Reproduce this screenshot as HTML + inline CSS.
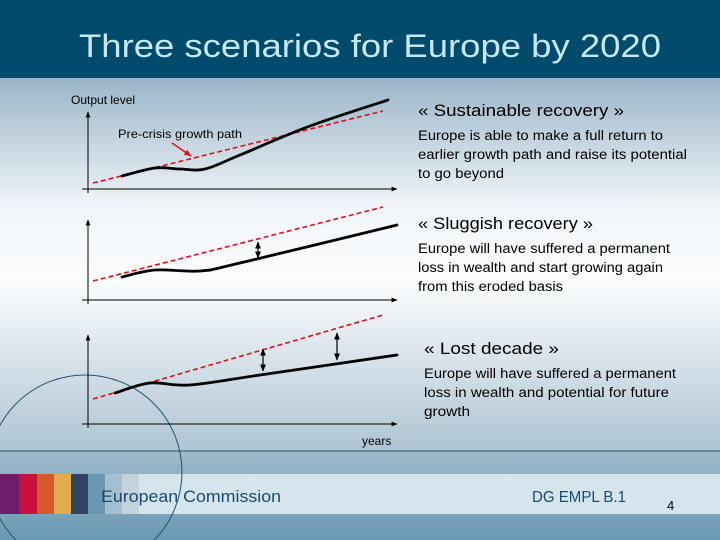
<!DOCTYPE html>
<html><head><meta charset="utf-8"><style>
html,body{margin:0;padding:0;width:720px;height:540px;overflow:hidden;font-family:"Liberation Sans",sans-serif}
svg{display:block}
</style></head><body>
<svg width="720" height="540" viewBox="0 0 720 540" xmlns="http://www.w3.org/2000/svg">
<defs>
<linearGradient id="bg" x1="0" y1="0" x2="0" y2="1">
<stop offset="0" stop-color="#9ab5c8"/><stop offset="0.35" stop-color="#f2f6f9"/><stop offset="0.55" stop-color="#fbfcfd"/><stop offset="1" stop-color="#aec4d3"/>
</linearGradient>
<linearGradient id="bot" x1="0" y1="0" x2="0" y2="1">
<stop offset="0" stop-color="#9fbacb"/><stop offset="1" stop-color="#6b98b3"/>
</linearGradient>
<clipPath id="clip"><rect x="0" y="0" width="720" height="540"/></clipPath>
<marker id="ah" viewBox="0 0 10 10" refX="9" refY="5" markerWidth="6" markerHeight="6" orient="auto-start-reverse"><path d="M0,1 L10,5 L0,9 z" fill="#000"/></marker>
<marker id="rh" viewBox="0 0 10 10" refX="9" refY="5" markerWidth="5" markerHeight="5" orient="auto"><path d="M0,1 L10,5 L0,9 z" fill="#e0101a"/></marker>
</defs>
<g clip-path="url(#clip)">
<rect x="0" y="78" width="720" height="373" fill="url(#bg)"/>
<rect x="0" y="451" width="720" height="89" fill="url(#bot)"/>
<line x1="0" y1="451" x2="720" y2="451" stroke="#1d5470" stroke-width="1"/>
<rect x="0" y="0" width="720" height="78" fill="#004a6b"/>
<text x="370" y="57" text-anchor="middle" font-size="32" fill="#c5e8f2" textLength="582" lengthAdjust="spacingAndGlyphs">Three scenarios for Europe by 2020</text>

<rect x="0" y="474" width="720" height="40" fill="#d5e5ee"/>
<g>
<rect x="0" y="474" width="19" height="40" fill="#6e1d6b"/><rect x="19" y="474" width="18" height="40" fill="#c8103c"/>
<rect x="37" y="474" width="17" height="40" fill="#d45a2a"/><rect x="54" y="474" width="17" height="40" fill="#e4ac50"/>
<rect x="71" y="474" width="17" height="40" fill="#2d4563"/><rect x="88" y="474" width="17" height="40" fill="#6b97b3"/>
<rect x="105" y="474" width="17" height="40" fill="#a4bfd0"/><rect x="122" y="474" width="17" height="40" fill="#c3d3de"/>
</g>
<text x="101" y="502" font-size="17" fill="#1d4a6e" textLength="180" lengthAdjust="spacingAndGlyphs">European Commission</text>
<text x="532" y="502" font-size="16" fill="#1d4a6e" textLength="94" lengthAdjust="spacingAndGlyphs">DG EMPL B.1</text>
<text x="667" y="510" font-size="13" fill="#000">4</text>
<circle cx="85" cy="472" r="97" fill="none" stroke="#1d5470" stroke-width="1"/>

<g id="charts"></g>

<text x="71" y="104" font-size="12" fill="#000">Output level</text>
<text x="118" y="138" font-size="12" fill="#000" textLength="124" lengthAdjust="spacingAndGlyphs">Pre-crisis growth path</text>
<line x1="172" y1="143" x2="191" y2="156" stroke="#e0101a" stroke-width="1.5" marker-end="url(#rh)"/>
<text x="362" y="445" font-size="12" fill="#000">years</text>

<g font-size="13.5" fill="#000">
<text x="418" y="116" font-size="16.5" textLength="206" lengthAdjust="spacingAndGlyphs">« Sustainable recovery »</text>
<text x="418" y="140" textLength="245" lengthAdjust="spacingAndGlyphs">Europe is able to make a full return to</text>
<text x="418" y="159" textLength="269" lengthAdjust="spacingAndGlyphs">earlier growth path and raise its potential</text>
<text x="418" y="178" textLength="86" lengthAdjust="spacingAndGlyphs">to go beyond</text>
<text x="418" y="229" font-size="16.5" textLength="175" lengthAdjust="spacingAndGlyphs">« Sluggish recovery »</text>
<text x="418" y="253" textLength="252" lengthAdjust="spacingAndGlyphs">Europe will have suffered a permanent</text>
<text x="418" y="272" textLength="245" lengthAdjust="spacingAndGlyphs">loss in wealth and start growing again</text>
<text x="418" y="291" textLength="145" lengthAdjust="spacingAndGlyphs">from this eroded basis</text>
<text x="424" y="354" font-size="16.5" textLength="135" lengthAdjust="spacingAndGlyphs">« Lost  decade »</text>
<text x="424" y="378" textLength="252" lengthAdjust="spacingAndGlyphs">Europe will have suffered a permanent</text>
<text x="424" y="397" textLength="245" lengthAdjust="spacingAndGlyphs">loss in wealth and potential for future</text>
<text x="424" y="416" textLength="46" lengthAdjust="spacingAndGlyphs">growth</text>
</g>
</g>
</svg>
<script>
// Panel layout
const panelTops = [112, 220, 335];
const panelBases = [189, 300, 424];
// Data: [time, output level] in chart units
const trendStart = [[5,6],[5,19],[5,25]];
const trendEnd = [[295,78],[295,93],[295,109]];
const actual1 = [[34,13],[67,21],[92,20],[117,20],[152,34],[222,63],[300,89]];
const actual2 = [[34,23],[67,30],[112,29],[152,37],[309,75]];
const actual3 = [[27,31],[62,41],[102,39],[172,49],[309,69]];
const gapArrows = [[], [[170,42,58]], [[175,53,75],[249,64,91]]];
const actuals = [actual1, actual2, actual3];

const NS = "http://www.w3.org/2000/svg";
const g = document.getElementById("charts");
const x0 = 88, xEnd = 395;
function sx(v){ return x0 + v; }
function sy(p, v){ return panelBases[p] - v; }
function mk(tag, attrs){ const e = document.createElementNS(NS, tag); for (const k in attrs) e.setAttribute(k, attrs[k]); g.appendChild(e); return e; }

for (let p = 0; p < 3; p++) {
  let e = mk("line", {x1:x0, y1:panelBases[p]+4, x2:x0, y2:panelTops[p], stroke:"#000", "stroke-width":1, "marker-end":"url(#ah)"});
  
  
  e = mk("line", {x1:x0-6, y1:panelBases[p], x2:xEnd+2, y2:panelBases[p], stroke:"#000", "stroke-width":1, "marker-end":"url(#ah)"});
  
  
  e = mk("line", {x1:sx(trendStart[p][0]), y1:sy(p,trendStart[p][1]), x2:sx(trendEnd[p][0]), y2:sy(p,trendEnd[p][1]), stroke:"#e0101a", "stroke-width":1.6, "stroke-dasharray":"5,3"});
  
  
  const pts = actuals[p].map(q => [sx(q[0]), sy(p, q[1])]);
  let d = "M" + pts[0].join(",");
  for (let i = 0; i < pts.length - 1; i++) {
    const a0 = pts[Math.max(i-1,0)], a = pts[i], b = pts[i+1], b1 = pts[Math.min(i+2, pts.length-1)];
    const c1 = [a[0] + (b[0]-a0[0])/6, a[1] + (b[1]-a0[1])/6];
    const c2 = [b[0] - (b1[0]-a[0])/6, b[1] - (b1[1]-a[1])/6];
    d += " C" + c1.join(",") + " " + c2.join(",") + " " + b.join(",");
  }
  e = mk("path", {d:d, fill:"none", stroke:"#000", "stroke-width":2.8, "stroke-linecap":"round"});
  
  
  gapArrows[p].forEach(a => {
    const ar = mk("line", {x1:sx(a[0]), y1:sy(p,a[1]), x2:sx(a[0]), y2:sy(p,a[2]), stroke:"#000", "stroke-width":1.2, "marker-start":"url(#ah)", "marker-end":"url(#ah)"});
    
    
  });
}
</script>
</body></html>
